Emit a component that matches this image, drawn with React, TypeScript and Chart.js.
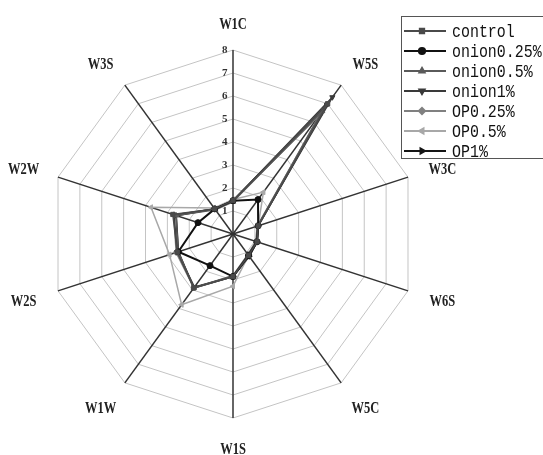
import React, { useEffect, useRef } from "react";
import { Chart, registerables } from "chart.js";
import { drawPoint } from "chart.js/helpers";

Chart.register(...registerables);

// ---- data ----
const axisLabels = ["W1C", "W5S", "W3C", "W6S", "W5C", "W1S", "W1W", "W2S", "W2W", "W3S"];
const seriesNames = ["control", "onion0.25%", "onion0.5%", "onion1%", "OP0.25%", "OP0.5%", "OP1%"];
const control = [1.45, 7.0, 1.15, 1.1, 1.15, 1.85, 2.9, 2.55, 2.75, 1.35];
const onion025 = [1.45, 1.85, 1.15, 1.1, 1.15, 1.85, 1.7, 2.5, 1.6, 1.35];
const onion05 = [1.4, 6.6, 1.1, 1.05, 1.1, 1.8, 2.9, 2.5, 2.6, 1.3];
const onion1 = [1.45, 7.35, 1.15, 1.1, 1.2, 1.85, 2.85, 2.55, 2.7, 1.35];
const op025 = [1.45, 6.4, 1.15, 1.1, 1.15, 1.85, 2.9, 2.6, 2.7, 1.35];
const op05 = [1.5, 2.25, 1.15, 1.1, 1.15, 2.27, 3.8, 2.9, 3.75, 1.4];
const op1 = [1.45, 6.9, 1.15, 1.1, 1.2, 1.85, 2.9, 2.5, 2.6, 1.35];
const seriesValues = [control, onion025, onion05, onion1, op025, op05, op1];
const tickMin = 0;
const tickMax = 8;
const tickStep = 1;

// ---- styles ----
const seriesColors = ["#4a4a4a", "#111111", "#5a5a5a", "#3a3a3a", "#808080", "#a8a8a8", "#151515"];
const seriesWidths = [1.5, 2.0, 1.4, 1.5, 1.5, 1.5, 1.8];
const seriesPointStyles = ["rect", "circle", "triangle", "triangle", "rectRot", "triangle", "triangle"];
const seriesRotations = [0, 0, 0, 180, 0, 270, 90];

const legendPlugin = {
  id: "boxLegend",
  afterDraw(chart: any) {
    const ctx = chart.ctx as CanvasRenderingContext2D;
    ctx.save();
    ctx.strokeStyle = "#555";
    ctx.lineWidth = 1;
    ctx.strokeRect(401.5, 16.5, 150, 142);
    chart.data.datasets.forEach((ds: any, i: number) => {
      const y = 31 + i * 20;
      ctx.strokeStyle = ds.borderColor;
      ctx.lineWidth = 1.8;
      ctx.beginPath();
      ctx.moveTo(404, y);
      ctx.lineTo(446, y);
      ctx.stroke();
      ctx.fillStyle = ds.pointBackgroundColor;
      ctx.strokeStyle = ds.pointBorderColor;
      drawPoint(ctx, { pointStyle: ds.pointStyle, rotation: ds.pointRotation, radius: 3.2, borderWidth: 1 }, 422, y);
      ctx.save();
      ctx.fillStyle = "#111";
      ctx.font = "18px 'Liberation Mono'";
      ctx.textBaseline = "middle";
      ctx.textAlign = "left";
      ctx.translate(452, y + 1);
      ctx.scale(0.83, 1);
      ctx.fillText(ds.label, 0, 0);
      ctx.restore();
    });
    ctx.restore();
  },
};

const axisLabelPlugin = {
  id: "axisLabelText",
  afterDraw(chart: any) {
    const s = chart.scales.r;
    const ctx = chart.ctx as CanvasRenderingContext2D;
    const R = s.drawingArea;
    ctx.save();
    ctx.fillStyle = "#222";
    ctx.font = "bold 16px 'Liberation Serif'";
    ctx.textAlign = "center";
    ctx.textBaseline = "middle";
    (chart.data.labels as string[]).forEach((lab, i) => {
      const a = s.getIndexAngle(i);
      const sin = Math.sin(a);
      const cos = Math.cos(a);
      const x = s.xCenter + sin * (R + 33 + 10 * Math.abs(cos));
      const y = s.yCenter - cos * (R + (cos >= 0 ? 26 : 31));
      ctx.save();
      ctx.translate(x, y + 1);
      ctx.scale(0.78, 1);
      ctx.fillText(lab, 0, 0);
      ctx.restore();
    });
    ctx.restore();
  },
};

export default function App() {
  const ref = useRef<HTMLCanvasElement>(null);
  useEffect(() => {
    document.body.style.margin = "0";
    const canvas = ref.current;
    if (!canvas) return;
    const chart = new Chart(canvas, {
      type: "radar",
      data: {
        labels: axisLabels,
        datasets: seriesNames.map((name, i) => ({
          label: name,
          data: seriesValues[i],
          borderColor: seriesColors[i],
          backgroundColor: seriesColors[i],
          pointBackgroundColor: seriesColors[i],
          pointBorderColor: seriesColors[i],
          borderWidth: seriesWidths[i],
          pointStyle: seriesPointStyles[i] as any,
          pointRotation: seriesRotations[i],
          pointRadius: 3,
          pointBorderWidth: 1,
          fill: false,
          tension: 0,
        })),
      },
      options: {
        animation: false,
        responsive: true,
        maintainAspectRatio: false,
        layout: { padding: { left: 44, right: 120, top: 45, bottom: 31 } },
        plugins: {
          legend: { display: false },
          tooltip: { enabled: false },
        },
        scales: {
          r: {
            min: tickMin,
            max: tickMax,
            ticks: {
              stepSize: tickStep,
              showLabelBackdrop: false,
              backdropPadding: 0,
              color: "#333",
              font: { family: "'Liberation Serif'", size: 11, weight: "bold" },
              callback: (v: any) => String(v) + "      ",
            },
            grid: { color: "#c4c4c4", lineWidth: 1, circular: false },
            angleLines: { color: "#333", lineWidth: 1.5 },
            pointLabels: { display: false },
          },
        },
      },
      plugins: [legendPlugin, axisLabelPlugin],
    });
    return () => chart.destroy();
  }, []);
  return (
    <div style={{ position: "relative", width: 543, height: 455, background: "#fff" }}>
      <canvas ref={ref} />
    </div>
  );
}
